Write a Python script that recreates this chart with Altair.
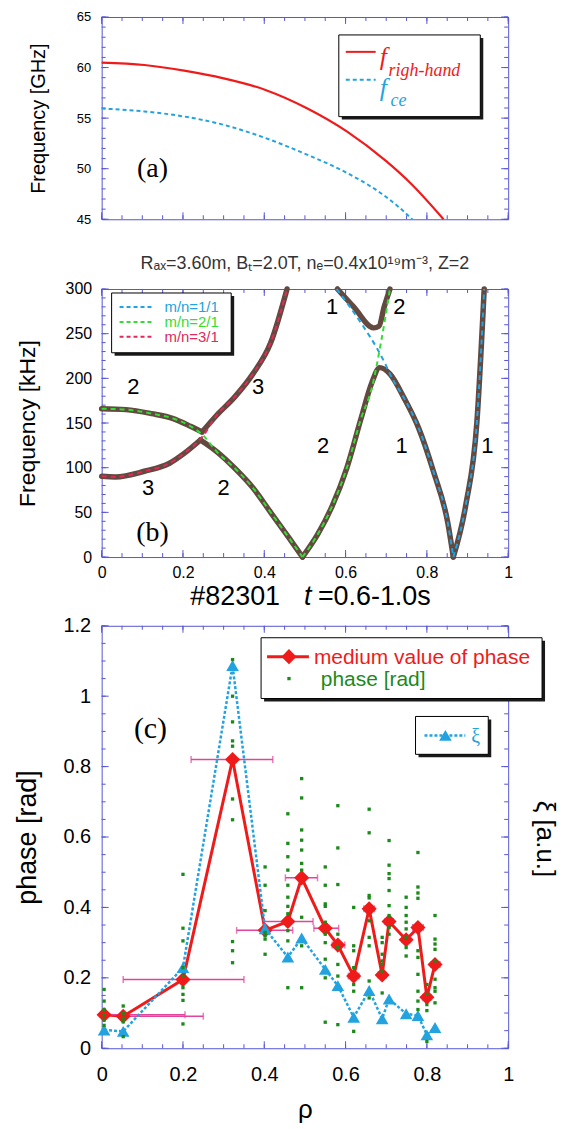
import altair as alt
import pandas as pd

FONT = "Liberation Sans"
SERIF = "Liberation Serif"
FRAME = "#5656d6"

# ---------------- panel (a) data ----------------
A_RH_X = [0, 0.105, 0.203, 0.30, 0.403, 0.505, 0.603, 0.70, 0.763, 0.841]
A_RH_Y = [60.48, 60.25, 59.69, 58.93, 57.79, 55.98, 53.69, 50.74, 48.44, 45.0]
A_CE_X = [0, 0.105, 0.203, 0.30, 0.403, 0.505, 0.603, 0.70, 0.727, 0.764]
A_CE_Y = [55.95, 55.66, 55.16, 54.34, 53.03, 51.39, 49.59, 47.2, 46.34, 45.0]

# ---------------- panel (b) data ----------------
# coupled solutions (thick brown), one list pair per smooth piece
B_BR1A_X = [0, 0.06, 0.123, 0.176, 0.22, 0.247]
B_BR1A_Y = [166, 165, 160.5, 155, 146, 140]
B_BR1B_X = [0.247, 0.283, 0.327, 0.372, 0.416, 0.456]
B_BR1B_Y = [140, 158.7, 179, 205, 240, 300]
B_BR2A_X = [0, 0.034, 0.105, 0.167, 0.203, 0.243]
B_BR2A_Y = [90.4, 89.7, 96, 105, 116, 131]
B_BR2B_X = [0.243, 0.283, 0.327, 0.372, 0.416, 0.46, 0.494]
B_BR2B_Y = [131, 118, 99.6, 77.5, 49.8, 22, 0]
B_BR2C_X = [0.494, 0.532, 0.567, 0.603, 0.638, 0.665, 0.684, 0.709, 0.745, 0.78, 0.816, 0.852, 0.865]
B_BR2C_Y = [0, 25.8, 57, 99.6, 155, 195.6, 212, 205, 177, 144, 96, 37, 0]
B_BR2D_X = [0.865, 0.896, 0.923, 0.941]
B_BR2D_Y = [0, 59, 151, 300]
B_BR3_X = [0.58, 0.62, 0.669, 0.682, 0.695, 0.709]
B_BR3_Y = [300, 280, 256.5, 258.3, 280, 300]
# uncoupled modes (dashed)
B_M1A_X = [0.578, 0.638, 0.681, 0.70, 0.709, 0.745, 0.78, 0.816, 0.852, 0.865]
B_M1A_Y = [300, 262, 230.6, 214, 205, 177, 144, 96, 37, 0]
B_M1B_X = [0.865, 0.896, 0.923, 0.941]
B_M1B_Y = [0, 59, 151, 300]
B_M2A_X = [0, 0.06, 0.123, 0.176, 0.22, 0.25, 0.283, 0.327, 0.372, 0.416, 0.46, 0.494]
B_M2A_Y = [166, 165, 160.5, 155, 146, 136, 118, 99.6, 77.5, 49.8, 22, 0]
B_M2B_X = [0.494, 0.532, 0.567, 0.603, 0.638, 0.665, 0.687, 0.709]
B_M2B_Y = [0, 25.8, 57, 99.6, 155, 190, 240, 300]
B_M3_X = [0, 0.034, 0.105, 0.167, 0.203, 0.25, 0.283, 0.327, 0.372, 0.416, 0.456]
B_M3_Y = [90.4, 89.7, 96, 105, 116, 136, 158.7, 179, 205, 240, 300]
B_LBL_X = [0.078, 0.385, 0.567, 0.732, 0.545, 0.738, 0.949, 0.114, 0.30]
B_LBL_Y = [190, 190, 280, 280, 124, 124, 124, 77.5, 77.5]
B_LBL_T = ["2", "3", "1", "2", "2", "1", "1", "3", "2"]

# ---------------- panel (c) data ----------------
C_RHO = [0.006, 0.053, 0.2, 0.322, 0.402, 0.458, 0.492, 0.55, 0.581, 0.62, 0.658, 0.69,
         0.707, 0.749, 0.778, 0.80, 0.82]
C_PHASE = [0.095, 0.091, 0.195, 0.82, 0.335, 0.36, 0.484, 0.341, 0.293, 0.205, 0.396, 0.208,
           0.36, 0.308, 0.343, 0.145, 0.238]
C_XI = [0.052, 0.048, 0.229, 1.087, 0.339, 0.259, 0.313, 0.224, 0.178, 0.088, 0.164, 0.084,
        0.14, 0.098, 0.093, 0.038, 0.059]
C_ERR_LO = [0.006, 0.053, 0.053, 0.22, 0.332, 0.40, 0.452, 0.522, 0.567, 0.607, 0.645, 0.68,
            0.697, 0.739, 0.765, 0.79, 0.81]
C_ERR_HI = [0.205, 0.25, 0.35, 0.421, 0.47, 0.52, 0.531, 0.583, 0.598, 0.633, 0.671, 0.70,
            0.717, 0.759, 0.791, 0.81, 0.832]
C_DOTS = [
    [0.167, 0.134, 0.11, 0.095, 0.08, 0.065],
    [0.12, 0.1, 0.085, 0.075, 0.033],
    [0.494, 0.341, 0.305, 0.229, 0.205, 0.172, 0.153, 0.136, 0.069],
    [1.104, 1.0, 0.927, 0.873, 0.858, 0.708, 0.649, 0.303, 0.277, 0.243],
    [0.515, 0.463, 0.391, 0.329, 0.32, 0.31, 0.267],
    [0.666, 0.582, 0.544, 0.506, 0.463, 0.429, 0.403, 0.382, 0.334, 0.305, 0.172],
    [0.766, 0.711, 0.62, 0.591, 0.563, 0.525, 0.506, 0.372, 0.291, 0.172],
    [0.515, 0.463, 0.41, 0.403, 0.358, 0.324, 0.3, 0.253, 0.2, 0.074],
    [0.689, 0.569, 0.465, 0.324, 0.286, 0.238, 0.205, 0.067],
    [0.40, 0.291, 0.277, 0.229, 0.181, 0.162, 0.048],
    [0.679, 0.612, 0.434, 0.427, 0.362, 0.315, 0.291, 0.191, 0.143],
    [0.315, 0.30, 0.267, 0.248, 0.238, 0.219, 0.157],
    [0.59, 0.52, 0.496, 0.482, 0.448, 0.405, 0.377, 0.343, 0.324],
    [0.429, 0.40, 0.377, 0.358, 0.339, 0.315, 0.286, 0.262],
    [0.556, 0.458, 0.441, 0.426, 0.277, 0.258, 0.21, 0.162, 0.134, 0.11],
    [0.181, 0.153, 0.124, 0.107, 0.019],
    [0.377, 0.31, 0.296, 0.281, 0.248, 0.196, 0.172, 0.162, 0.129],
]

# ---------------- ticks ----------------
X_MAJOR = [0, 0.2, 0.4, 0.6, 0.8, 1.0]
X_MINOR = [round(i * 0.05, 2) for i in range(21)]
A_Y_MAJOR = [45, 50, 55, 60, 65]
A_Y_MINOR = list(range(45, 66))
B_Y_MAJOR = [0, 50, 100, 150, 200, 250, 300]
B_Y_MINOR = list(range(0, 301, 10))
C_Y_MAJOR = [0, 0.2, 0.4, 0.6, 0.8, 1.0, 1.2]
C_Y_MINOR = [round(i * 0.05, 2) for i in range(25)]

W = 408
HA, HB, HC = 203, 269, 424

RED = "#ef1b1b"
BLUE = "#22a3e0"
GREEN = "#33dd33"
CRIMSON = "#e02a5c"
BROWN = "#63493f"
DOTG = "#1b8a1b"
PINK = "#e0449c"

ONE = pd.DataFrame({"d": [0]})


def encoders(ydom, xaxis, yaxis):
    def X(f):
        return alt.X(f"{f}:Q", scale=alt.Scale(domain=[0, 1], nice=False, zero=False), axis=xaxis)

    def Y(f):
        return alt.Y(f"{f}:Q", scale=alt.Scale(domain=ydom, nice=False, zero=False), axis=yaxis)
    return X, Y


def tick_layers(X, Y, ymaj, ymin, H):
    out = []
    for vals, L in ((X_MAJOR, 7), (X_MINOR, 4)):
        m = alt.Chart(pd.DataFrame({"t": vals})).mark_rule(color=FRAME, strokeWidth=1)
        out.append(m.encode(x=X("t"), y=alt.value(H), y2=alt.value(H - L)))
        out.append(m.encode(x=X("t"), y=alt.value(0), y2=alt.value(L)))
    for vals, L in ((ymaj, 7), (ymin, 4)):
        m = alt.Chart(pd.DataFrame({"t": vals})).mark_rule(color=FRAME, strokeWidth=1)
        out.append(m.encode(y=Y("t"), x=alt.value(0), x2=alt.value(L)))
        out.append(m.encode(y=Y("t"), x=alt.value(W), x2=alt.value(W - L)))
    return out


def box(x1, y1, x2, y2):
    shadow = alt.Chart(ONE).mark_rect(color="#1a1a1a").encode(
        x=alt.value(x1 + 3), x2=alt.value(x2 + 3), y=alt.value(y1 + 3), y2=alt.value(y2 + 3))
    face = alt.Chart(ONE).mark_rect(fill="white", stroke="black", strokeWidth=1).encode(
        x=alt.value(x1), x2=alt.value(x2), y=alt.value(y1), y2=alt.value(y2))
    return [shadow, face]


def txt(s, x, y, size, color="black", font=FONT, style="normal", align="left", angle=0,
        baseline="middle"):
    return alt.Chart(ONE).mark_text(text=s, font=font, fontSize=size, color=color,
                                    fontStyle=style, align=align, baseline=baseline,
                                    angle=angle).encode(x=alt.value(x), y=alt.value(y))


def seg(x1, x2, y, color, width=2, dash=None):
    kw = dict(color=color, strokeWidth=width)
    if dash:
        kw["strokeDash"] = dash
    return alt.Chart(ONE).mark_rule(**kw).encode(x=alt.value(x1), x2=alt.value(x2), y=alt.value(y))


def pieces(*pairs):
    rows = []
    for k, (xs, ys) in enumerate(pairs):
        rows += [{"s": k, "i": i, "x": xv, "y": yv} for i, (xv, yv) in enumerate(zip(xs, ys))]
    return pd.DataFrame(rows)


def yaxis(values, title, lsize, lpad, tsize, tpad):
    return alt.Axis(values=values, title=title, domain=False, ticks=False, grid=False,
                    labelFont=FONT, labelFontSize=lsize, labelColor="black", labelPadding=lpad,
                    labelFlush=False, labelExpr="format(datum.value, '~g')",
                    titleFont=FONT, titleFontSize=tsize, titleFontWeight="normal",
                    titleColor="black", titlePadding=tpad, minExtent=40, maxExtent=40)


# ================= panel (a) =================
XA, YA = encoders([45, 65], None, yaxis(A_Y_MAJOR, "Frequency [GHz]", 13, 11, 20, 13))
a_layers = tick_layers(XA, YA, A_Y_MAJOR, A_Y_MINOR, HA)
a_layers += [
    alt.Chart(pd.DataFrame({"x": A_CE_X, "y": A_CE_Y})).mark_line(
        color=BLUE, strokeWidth=2, strokeDash=[4, 3], interpolate="monotone").encode(x=XA("x"), y=YA("y")),
    alt.Chart(pd.DataFrame({"x": A_RH_X, "y": A_RH_Y})).mark_line(
        color=RED, strokeWidth=2.2, interpolate="monotone").encode(x=XA("x"), y=YA("y")),
]
a_layers += box(238, 18, 380, 100)
a_layers += [
    seg(245, 275, 35, RED, 2),
    txt("f", 279, 40, 26, RED, SERIF, "italic"),
    txt("righ-hand", 288, 54, 18, RED, SERIF, "italic"),
    seg(245, 275, 63, BLUE, 2, [4, 3]),
    txt("f", 279, 71, 26, BLUE, SERIF, "italic"),
    txt("ce", 290, 84, 18, BLUE, SERIF, "italic"),
    txt("(a)", 51, 153, 28, "black", SERIF, align="center"),
    # invisible spacer below panel (a) to set the gap above panel (b)
    alt.Chart(ONE).mark_rule(color="white", strokeWidth=1).encode(
        x=alt.value(0), x2=alt.value(2), y=alt.value(HA + 30)),
]
panel_a = alt.layer(*a_layers).properties(width=W, height=HA)

# ================= panel (b) =================
xb_axis = alt.Axis(values=X_MAJOR, title=None, domain=False, ticks=False, grid=False,
                   labelFont=FONT, labelFontSize=16, labelColor="black", labelPadding=8,
                   labelFlush=False, labelExpr="format(datum.value, '~g')")
XB, YB = encoders([0, 300], xb_axis, yaxis(B_Y_MAJOR, "Frequency [kHz]", 16, 10, 23, 22))
b_layers = tick_layers(XB, YB, B_Y_MAJOR, B_Y_MINOR, HB)
brown = pieces((B_BR1A_X, B_BR1A_Y), (B_BR1B_X, B_BR1B_Y), (B_BR2A_X, B_BR2A_Y),
               (B_BR2B_X, B_BR2B_Y), (B_BR2C_X, B_BR2C_Y), (B_BR2D_X, B_BR2D_Y),
               (B_BR3_X, B_BR3_Y))
b_layers.append(alt.Chart(brown).mark_line(
    color=BROWN, strokeWidth=5.5, strokeCap="round", strokeJoin="round", interpolate="monotone").encode(
    x=XB("x"), y=YB("y"), detail="s:N", order="i:Q"))
for df_, col in ((pieces((B_M1A_X, B_M1A_Y), (B_M1B_X, B_M1B_Y)), BLUE),
                 (pieces((B_M2A_X, B_M2A_Y), (B_M2B_X, B_M2B_Y)), GREEN),
                 (pieces((B_M3_X, B_M3_Y)), CRIMSON)):
    b_layers.append(alt.Chart(df_).mark_line(
        color=col, strokeWidth=2, strokeDash=[5, 4], interpolate="monotone").encode(
        x=XB("x"), y=YB("y"), detail="s:N", order="i:Q"))
b_layers.append(alt.Chart(pd.DataFrame({"x": B_LBL_X, "y": B_LBL_Y, "t": B_LBL_T})).mark_text(
    font=FONT, fontSize=22, color="black").encode(x=XB("x"), y=YB("y"), text="t:N"))
b_layers += box(10, 4, 130, 64)
for yy, col, lab in ((18, BLUE, "m/n=1/1"), (33, GREEN, "m/n=2/1"), (48, CRIMSON, "m/n=3/1")):
    b_layers += [seg(18, 53, yy, col, 2, [4, 3]), txt(lab, 63, yy, 15, col)]
b_layers += [
    txt("(b)", 51, 245, 28, "black", SERIF, align="center"),
    txt("#82301", 89, HB + 48, 27, baseline="alphabetic"),
    txt("t", 203, HB + 48, 27, style="italic", baseline="alphabetic"),
    txt("=0.6-1.0s", 217, HB + 48, 27, baseline="alphabetic"),
]
panel_b = alt.layer(*b_layers).properties(
    width=W, height=HB,
    title=alt.TitleParams("R\u2090\u2093=3.60m, B\u209c=2.0T, n\u2091=0.4x10\u00b9\u2079m\u207b\u00b3, Z=2",
                          font=FONT, fontSize=18, fontWeight="normal", color="#333333", offset=8))

# ================= panel (c) =================
xc_axis = alt.Axis(values=X_MAJOR, title="\u03c1", domain=False, ticks=False, grid=False,
                   labelFont=FONT, labelFontSize=20, labelColor="black", labelPadding=16,
                   labelFlush=False, labelExpr="format(datum.value, '~g')",
                   titleFont=FONT, titleFontSize=26, titleFontWeight="normal", titleColor="black",
                   titlePadding=12)
XC, YC = encoders([0, 1.2], xc_axis, yaxis(C_Y_MAJOR, "phase [rad]", 20, 11, 27, 20))
c_layers = tick_layers(XC, YC, C_Y_MAJOR, C_Y_MINOR, HC)

main = pd.DataFrame({"x": C_RHO, "p": C_PHASE, "xi": C_XI, "lo": C_ERR_LO, "hi": C_ERR_HI})
dots = pd.DataFrame({
    "x": [C_RHO[i] for i, col in enumerate(C_DOTS) for _ in col],
    "y": [v for col in C_DOTS for v in col],
})
c_layers += [
    alt.Chart(main).mark_line(color=RED, strokeWidth=3).encode(x=XC("x"), y=YC("p")),
    alt.Chart(main).mark_rule(color=PINK, strokeWidth=1.5).encode(x=XC("lo"), x2="hi:Q", y=YC("p")),
    alt.Chart(main).mark_tick(color=PINK, orient="vertical", size=7, thickness=1.5).encode(x=XC("lo"), y=YC("p")),
    alt.Chart(main).mark_tick(color=PINK, orient="vertical", size=7, thickness=1.5).encode(x=XC("hi"), y=YC("p")),
    alt.Chart(main).mark_point(shape="diamond", filled=True, size=230, color=RED, opacity=1).encode(x=XC("x"), y=YC("p")),
    alt.Chart(main).mark_line(color=BLUE, strokeWidth=2.5, strokeDash=[3, 2]).encode(x=XC("x"), y=YC("xi")),
    alt.Chart(main).mark_point(shape="triangle-up", filled=True, size=160, color=BLUE, opacity=1).encode(x=XC("x"), y=YC("xi")),
    alt.Chart(dots).mark_square(size=11, color=DOTG, opacity=1).encode(x=XC("x"), y=YC("y")),
]
c_layers += box(160, 12, 442, 73)
c_layers += [
    seg(166, 208, 31, RED, 3),
    alt.Chart(ONE).mark_point(shape="diamond", filled=True, size=230, color=RED, opacity=1).encode(
        x=alt.value(188), y=alt.value(31)),
    txt("medium value of phase", 213, 32, 21, RED),
    alt.Chart(ONE).mark_square(size=11, color=DOTG, opacity=1).encode(x=alt.value(188), y=alt.value(53)),
    txt("phase [rad]", 220, 54, 21, DOTG),
]
c_layers += box(315, 91, 388, 129)
c_layers += [
    seg(324, 365, 110, BLUE, 2.5, [3, 2]),
    alt.Chart(ONE).mark_point(shape="triangle-up", filled=True, size=160, color=BLUE, opacity=1).encode(
        x=alt.value(345), y=alt.value(110)),
    txt("\u03be", 371, 112, 20, BLUE, SERIF),
    txt("(c)", 49, 104, 30, "black", SERIF, align="center"),
    txt("\u03be [a.u.]", W + 37, 214, 26, align="center", angle=90),
]
panel_c = alt.layer(*c_layers).properties(width=W, height=HC)

chart = alt.vconcat(panel_a, panel_b, panel_c, spacing=4).properties(
    padding={"left": 5, "top": 0, "right": 0, "bottom": 0}
).configure_view(stroke=FRAME, strokeWidth=1)

chart.save("out.html", embed_options={"renderer": "svg", "actions": False})
